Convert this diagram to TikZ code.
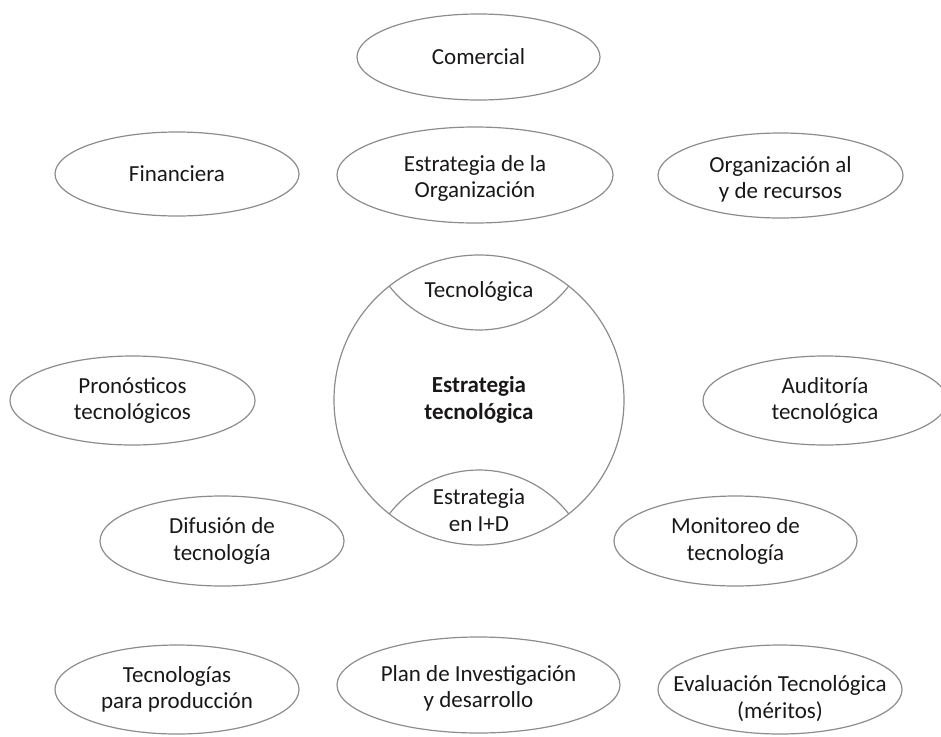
\documentclass[tikz,border=0pt]{standalone}
\usepackage{fontspec}
\setmainfont{Carlito}
\usetikzlibrary{shapes.geometric}
\definecolor{edge}{HTML}{8C8C8C}
\definecolor{ink}{HTML}{1A1718}
\begin{document}
\begin{tikzpicture}[x=1pt, y=-1pt,
  oval/.style={ellipse, draw=edge, line width=1.2pt, inner sep=0pt},
  txt/.style={text=ink, align=center, inner sep=0pt,
              font=\fontsize{23}{26.5}\selectfont},
  rim/.style={draw=edge, line width=1.2pt}]
\clip (0,0) rectangle (941,736);

% top row
\node[oval, minimum width=243pt, minimum height=86pt,
      label={[txt]center:Comercial}] (com) at (478.5,57) {};
\node[oval, minimum width=244pt, minimum height=84pt,
      label={[txt]center:Financiera}] (fin) at (177,174) {};
\node[oval, minimum width=276pt, minimum height=96pt,
      label={[txt, yshift=-3.5pt]center:Estrategia de la\\Organización}] (org) at (475,175) {};
\node[oval, minimum width=245pt, minimum height=85pt,
      label={[txt, yshift=-4pt]center:Organización al\\y de recursos}] (rec) at (780.5,175.5) {};

% middle row
\node[oval, minimum width=245pt, minimum height=89pt,
      label={[txt]center:Pronósticos\\tecnológicos}] (pro) at (132.5,400.5) {};
\node[oval, minimum width=244pt, minimum height=89pt,
      label={[txt]center:Auditoría\\tecnológica}] (aud) at (825,400.5) {};
\node[oval, minimum width=244pt, minimum height=90pt,
      label={[txt]center:Difusión de\\tecnología}] (dif) at (222,541) {};
\node[oval, minimum width=243pt, minimum height=90pt,
      label={[txt]center:Monitoreo de\\tecnología}] (mon) at (735.5,541) {};

% bottom row
\node[oval, minimum width=244pt, minimum height=89pt,
      label={[txt]center:Tecnologías\\para producción}] (prod) at (177,689.5) {};
\node[oval, minimum width=283pt, minimum height=96pt,
      label={[txt, yshift=-3.5pt]center:Plan de Investigación\\y desarrollo}] (plan) at (478.5,685) {};
\node[oval, minimum width=244pt, minimum height=89pt,
      label={[txt, yshift=-9pt]center:Evaluación Tecnológica\\(méritos)}] (eva) at (780,689.5) {};

% central circle with its two lens-shaped caps
\node[circle, rim, minimum size=290pt, inner sep=0pt] (core) at (479,400) {};
\begin{scope}
  \clip (core.center) circle (145pt);
  \draw[rim] (479,216.4) circle (113.6pt);
  \draw[rim] (479,583.6) circle (113.6pt);
\end{scope}
\node[txt] (capt) at (479,291) {Tecnológica};
\node[txt, font=\fontsize{23}{26.5}\selectfont\bfseries] (core-t) at (core) {Estrategia\\tecnológica};
\node[txt] (capb) at (479,510) {Estrategia\\en I+D};
\end{tikzpicture}
\end{document}
